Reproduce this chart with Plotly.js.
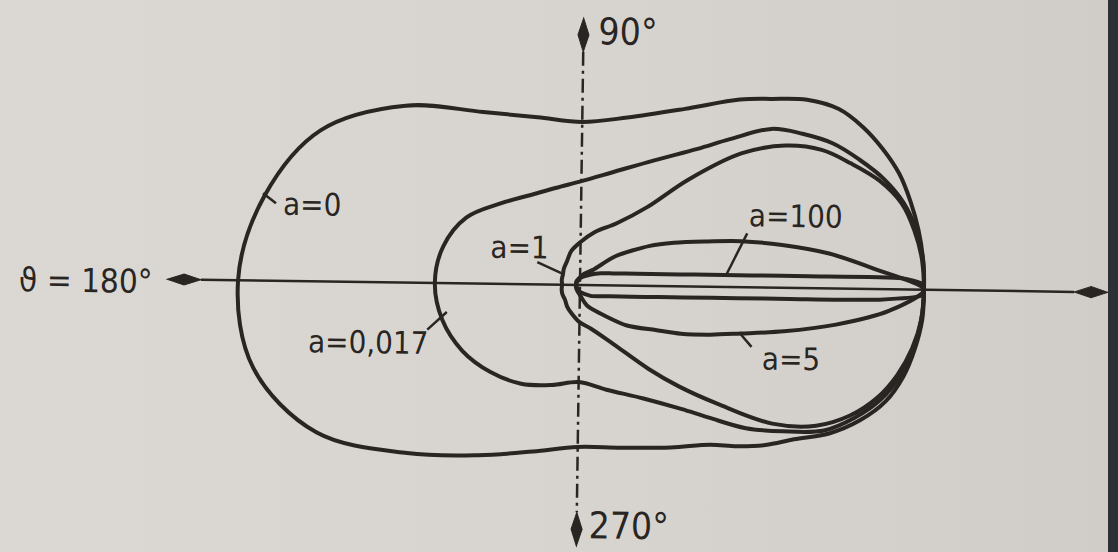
<!DOCTYPE html>
<html>
<head>
<meta charset="utf-8">
<script src="https://cdn.plot.ly/plotly-3.0.1.min.js"></script>
<style>
  html, body { margin:0; padding:0; width:1118px; height:552px; overflow:hidden; }
  body { position:relative; background: linear-gradient(90deg, #dbd8d3 0%, #d7d4cf 55%, #d0cdc8 100%); }
  #chart { position:absolute; left:0; top:0; width:1118px; height:552px;
           transform: rotate(0.8deg); transform-origin: 580px 285px; }
  #edge { position:absolute; left:1108px; top:0; width:10px; height:552px; background:#2c3137; }
</style>
</head>
<body>
<div id="chart"></div>
<div id="edge"></div>
<script>
// Polar angular distributions (relative intensity vs scattering angle, degrees)
const theta = [0,5,10,15,20,25,30,35,40,45,50,60,75,90,105,120,135,150,165,180,195,210,225,240,255,270,285,300,310,315,320,325,330,335,340,345,350,355,360];
const rA0 = [1.000,1.000,0.997,0.991,0.983,0.965,0.942,0.910,0.852,0.776,0.712,0.596,0.506,0.474,0.503,0.576,0.727,0.878,0.953,0.994,0.980,0.878,0.701,0.576,0.503,0.471,0.488,0.541,0.599,0.654,0.712,0.767,0.843,0.904,0.951,0.977,0.991,1.000,1.000];
const rA0017 = [1.000,1.000,0.991,0.971,0.936,0.890,0.843,0.782,0.718,0.608,0.523,0.422,0.340,0.302,0.291,0.299,0.331,0.384,0.413,0.422,0.413,0.392,0.363,0.334,0.302,0.282,0.314,0.378,0.465,0.538,0.637,0.727,0.826,0.887,0.936,0.968,0.988,0.997,1.000];
const rA1 = [1.000,0.997,0.985,0.965,0.922,0.863,0.805,0.721,0.605,0.439,0.299,0.209,0.160,0.125,0.102,0.078,0.067,0.058,0.055,0.052,0.055,0.058,0.061,0.073,0.087,0.108,0.131,0.195,0.314,0.410,0.529,0.689,0.799,0.872,0.924,0.959,0.983,0.997,1.000];

const thetaA5 = [0,4,8,12,16,20,25,30,40,50,70,90,135,180,225,270,290,310,320,330,335,340,344,348,352,356,360];
const rA5 = [1.000,0.855,0.730,0.599,0.485,0.384,0.299,0.233,0.131,0.058,0.035,0.023,0.015,0.012,0.015,0.029,0.064,0.116,0.180,0.256,0.326,0.407,0.488,0.608,0.753,0.901,1.000];

const thetaA100 = [0,1,2,3,4,6,8,12,20,30,45,90,180,270,315,330,340,348,352,354,356,357,358,359,360];
const rA100 = [1.000,0.994,0.936,0.666,0.500,0.334,0.250,0.169,0.102,0.070,0.044,0.020,0.012,0.020,0.044,0.064,0.093,0.154,0.230,0.305,0.459,0.610,0.872,0.991,1.000];

const curveLabels = ["a=0", "a=0,017", "a=1", "a=5", "a=100"];
const angleLabels = ["\u03d1 = 180\u00b0", "90\u00b0", "270\u00b0"];

const INK = "#292522";
const FONT = "DejaVu Sans Condensed, DejaVu Sans, sans-serif";

function toXY(th, r) {
  return {
    x: th.map((t, i) => r[i] * Math.cos(t * Math.PI / 180)),
    y: th.map((t, i) => r[i] * Math.sin(t * Math.PI / 180))
  };
}

function curve(th, r, smooth) {
  const p = toXY(th, r);
  return { type: "scatter", mode: "lines", x: p.x, y: p.y, hoverinfo: "skip",
           line: { color: INK, width: 4, shape: "spline", smoothing: smooth } };
}

const traces = [
  curve(theta, rA0, 1.0),
  curve(theta, rA0017, 1.0),
  curve(theta, rA1, 1.0),
  curve(thetaA5, rA5, 0.8),
  curve(thetaA100, rA100, 0.6)
];

// dart-shaped arrow tip for the axes, in data units
function dart(tx, ty, bx, by, hw) {
  const dx = bx - tx, dy = by - ty;
  const len = Math.hypot(dx, dy);
  const nx = -dy / len * hw, ny = dx / len * hw;
  const mx = tx + dx * 0.5, my = ty + dy * 0.5;
  return { type: "path", xref: "x", yref: "y", fillcolor: INK, line: { color: INK, width: 1 },
    path: `M${tx},${ty} L${mx + nx},${my + ny} L${bx},${by} L${mx - nx},${my - ny} Z` };
}

const axisEnds = { left: -1.200, right: 1.535, top: 0.776, bottom: -0.759 };
const dartLen = 0.098, dartHalf = 0.016;

const shapes = [
  { type: "line", xref: "x", yref: "y", x0: axisEnds.left + dartLen, x1: axisEnds.right - dartLen, y0: 0, y1: 0,
    line: { color: INK, width: 2.5 } },
  { type: "line", xref: "x", yref: "y", x0: 0, x1: 0, y0: axisEnds.top - dartLen, y1: axisEnds.bottom + dartLen,
    line: { color: INK, width: 2.5, dash: "14px,5px,3px,5px" } },
  dart(axisEnds.left, 0, axisEnds.left + dartLen, 0, dartHalf),
  dart(axisEnds.right, 0, axisEnds.right - dartLen, 0, dartHalf),
  dart(0, axisEnds.top, 0, axisEnds.top - dartLen, dartHalf),
  dart(0, axisEnds.bottom, 0, axisEnds.bottom + dartLen, dartHalf),
  // leader ticks from the labels to their curves
  { type: "line", xref: "x", yref: "y", x0: -0.925, y0: 0.254, x1: -0.887, y1: 0.225, line: { color: INK, width: 2.5 } },
  { type: "line", xref: "x", yref: "y", x0: -0.442, y0: -0.136, x1: -0.386, y1: -0.084, line: { color: INK, width: 2.5 } },
  { type: "line", xref: "x", yref: "y", x0: -0.125, y0: 0.065, x1: -0.055, y1: 0.034, line: { color: INK, width: 2.5 } },
  { type: "line", xref: "x", yref: "y", x0: 0.484, y0: 0.157, x1: 0.426, y1: 0.038, line: { color: INK, width: 2.5 } },
  { type: "line", xref: "x", yref: "y", x0: 0.466, y0: -0.133, x1: 0.501, y1: -0.173, line: { color: INK, width: 2.5 } }
];

function label(text, x, y, size, xanchor) {
  return { text: text, x: x, y: y, xref: "x", yref: "y", showarrow: false,
           xanchor: xanchor || "center", yanchor: "middle",
           font: { family: FONT, size: size, color: INK } };
}

const annotations = [
  label(curveLabels[0], -0.783, 0.223, 31),
  label(curveLabels[1], -0.612, -0.174, 31),
  label(curveLabels[2], -0.178, 0.108, 31),
  label(curveLabels[3], 0.615, -0.206, 31),
  label(curveLabels[4], 0.626, 0.209, 31),
  label(angleLabels[0], -1.638, -0.008, 33, "left"),
  label(angleLabels[1], 0.039, 0.737, 37, "left"),
  label(angleLabels[2], 0.030, -0.700, 37, "left")
];

const layout = {
  width: 1118, height: 552,
  margin: { l: 0, r: 0, t: 0, b: 0, pad: 0 },
  paper_bgcolor: "rgba(0,0,0,0)", plot_bgcolor: "rgba(0,0,0,0)",
  showlegend: false,
  xaxis: { range: [-1.6860, 1.5640], visible: false, fixedrange: true },
  yaxis: { range: [-0.7762, 0.8285], visible: false, fixedrange: true },
  shapes: shapes,
  annotations: annotations
};

Plotly.newPlot("chart", traces, layout, { staticPlot: true, displayModeBar: false });
</script>
</body>
</html>
